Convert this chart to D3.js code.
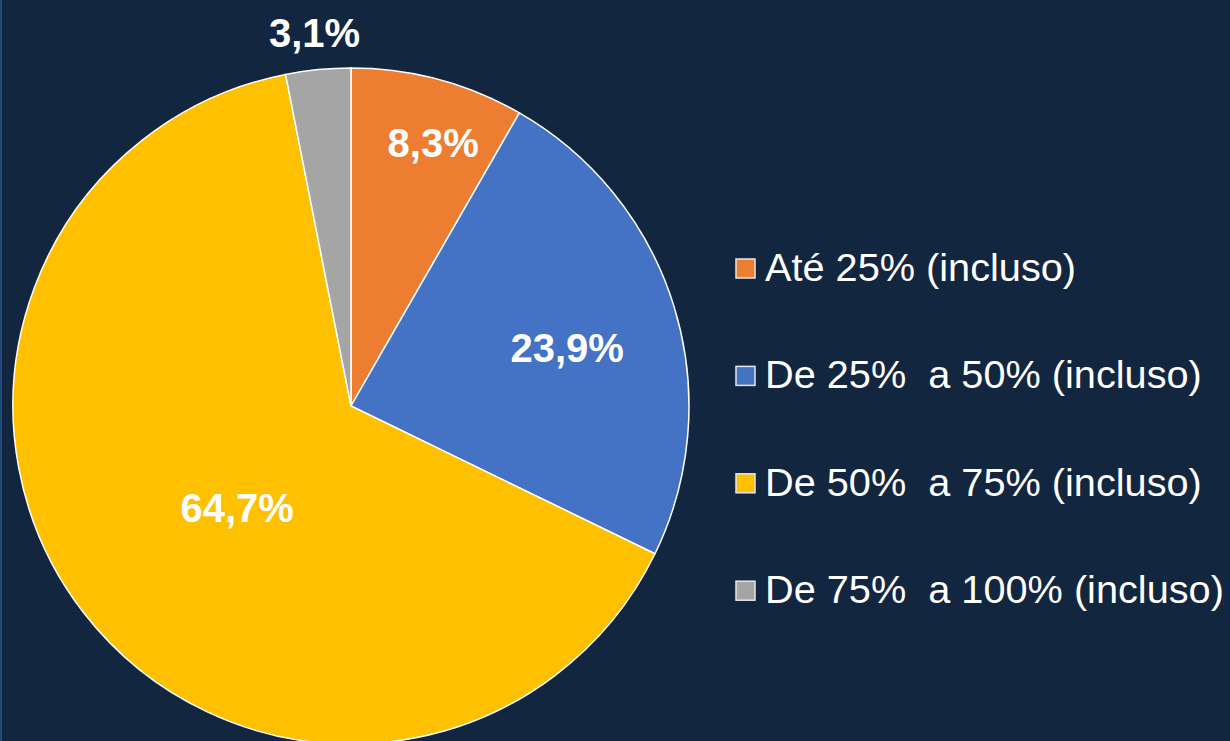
<!DOCTYPE html>
<html>
<head>
<meta charset="utf-8">
<script src="https://cdn.jsdelivr.net/npm/d3@7"></script>
<style>
  body { margin: 0; background: #122640; }
  svg { display: block; }
</style>
</head>
<body>
<svg id="chart" width="1230" height="741"></svg>
<script>
// data
var categories = ["Até 25% (incluso)", "De 25%  a 50% (incluso)", "De 50%  a 75% (incluso)", "De 75%  a 100% (incluso)"];
var values = [8.3, 23.9, 64.7, 3.1];
var labels = ["8,3%", "23,9%", "64,7%", "3,1%"];
var colors = ["#ED7D31", "#4472C4", "#FFC000", "#A5A5A5"];

var width = 1230, height = 741;
var cx = 351, cy = 406, radius = 338;

// where each label sits: fraction of the radius, and a nudge (degrees) from the slice middle
var labelRadius = [0.815, 0.662, 0.452, 1.11];
var labelShift = [2.4, 2.1, -4.2, 0];

var svg = d3.select("#chart");

svg.append("rect")
  .attr("width", width)
  .attr("height", height)
  .attr("fill", "#122640");

// thin lighter edge on the left
svg.append("rect")
  .attr("x", 0).attr("y", 0)
  .attr("width", 2).attr("height", height)
  .attr("fill", "#24497a");

var pie = d3.pie().sort(null).value(function(d) { return d; });
var arcs = pie(values);

var arc = d3.arc().innerRadius(0).outerRadius(radius);

var g = svg.append("g")
  .attr("transform", "translate(" + cx + "," + cy + ")");

g.selectAll("path")
  .data(arcs)
  .enter().append("path")
  .attr("d", arc)
  .attr("fill", function(d, i) { return colors[i]; })
  .attr("stroke", "#ffffff")
  .attr("stroke-width", 1.5);

g.selectAll("text.lbl")
  .data(arcs)
  .enter().append("text")
  .attr("class", "lbl")
  .attr("transform", function(d, i) {
    var a = (d.startAngle + d.endAngle) / 2 + labelShift[i] * Math.PI / 180;
    var r = radius * labelRadius[i];
    return "translate(" + (r * Math.sin(a)) + "," + (-r * Math.cos(a)) + ")";
  })
  .attr("text-anchor", "middle")
  .attr("dy", "0.36em")
  .attr("fill", "#ffffff")
  .style("font-family", "'Liberation Sans', Arial, sans-serif")
  .style("font-weight", "bold")
  .style("font-size", "40px")
  .text(function(d, i) { return labels[i]; });

// legend
var legend = svg.append("g")
  .attr("transform", "translate(735,281)");

var item = legend.selectAll("g")
  .data(categories)
  .enter().append("g")
  .attr("transform", function(d, i) { return "translate(0," + (i * 107.4) + ")"; });

item.append("rect")
  .attr("x", 1).attr("y", -22)
  .attr("width", 19).attr("height", 19)
  .attr("fill", function(d, i) { return colors[i]; })
  .attr("stroke", "#e6e6e6")
  .attr("stroke-width", 1.5);

item.append("text")
  .attr("x", 30)
  .attr("y", 0)
  .attr("fill", "#ffffff")
  .style("font-family", "'Liberation Sans', Arial, sans-serif")
  .style("font-size", "39.7px")
  .style("white-space", "pre")
  .text(function(d) { return d; });
</script>
</body>
</html>
